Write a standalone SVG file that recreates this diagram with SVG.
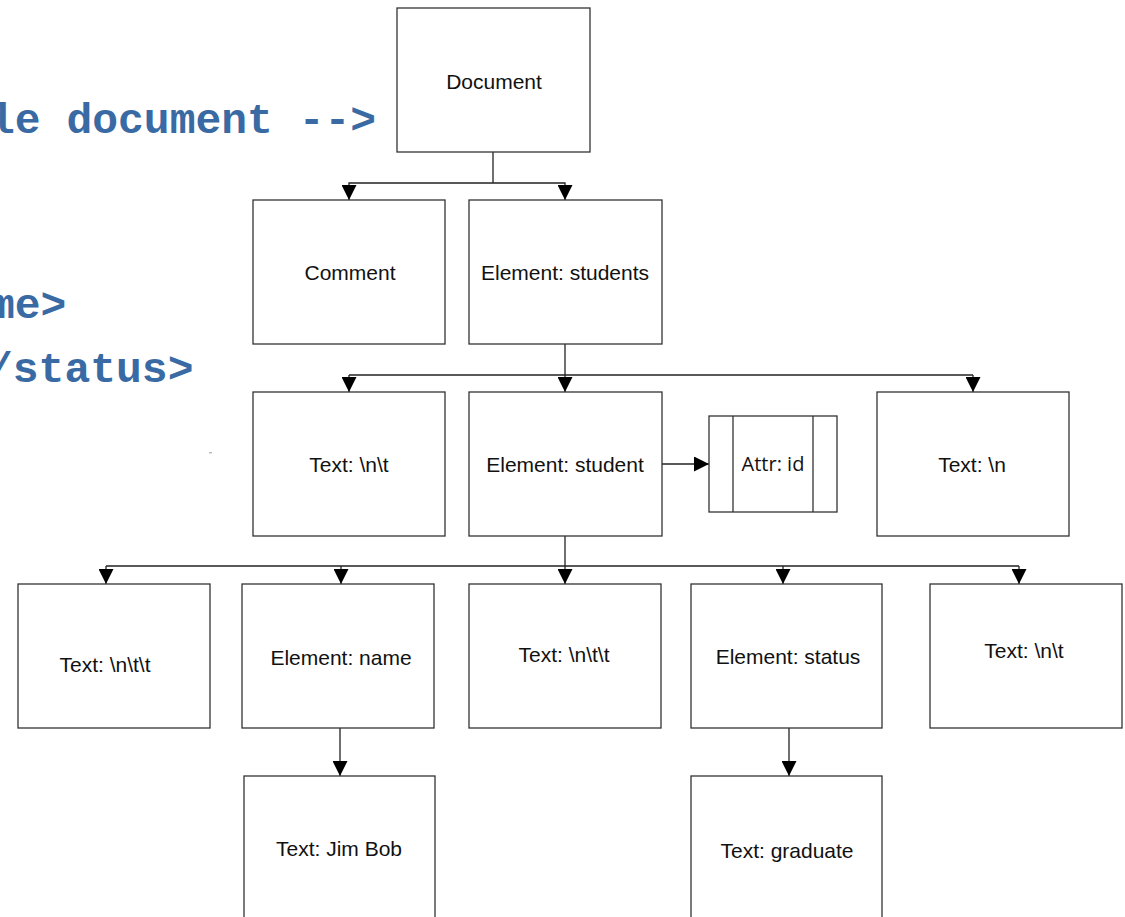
<svg xmlns="http://www.w3.org/2000/svg" width="1125" height="917" viewBox="0 0 1125 917">
<style>
.box{fill:#fff;stroke:#333;stroke-width:1.3}
.lbl{font-family:"Liberation Sans",Arial,sans-serif;font-size:21px;fill:#111;text-anchor:middle}
.attr{font-family:"Open Sans","Noto Sans",sans-serif;font-size:20px;fill:#111;text-anchor:middle}
.code{font-family:"Liberation Mono","Courier New",monospace;font-weight:bold;font-size:43px;fill:#3a6aa3}
.c{fill:none;stroke:#222;stroke-width:1.3}
</style>
<defs>
<marker id="ah" markerUnits="userSpaceOnUse" markerWidth="15" markerHeight="15" refX="15" refY="7.5" orient="auto">
<path d="M0,0 L15,7.5 L0,15 z" fill="#000"/>
</marker>
</defs>
<rect width="1125" height="917" fill="#fff"/>
<g id="code">
<text class="code" x="-11" y="133">le document --&gt;</text>
<text class="code" x="-11" y="318">me&gt;</text>
<text class="code" x="-13" y="382">/status&gt;</text>
<rect x="209" y="452" width="3" height="1.5" fill="#bbb"/>
</g>
<g id="connectors">
<path class="c" d="M493,152 V183"/>
<path class="c" d="M493,183 H349 V200" marker-end="url(#ah)"/>
<path class="c" d="M493,183 H565 V200" marker-end="url(#ah)"/>
<path class="c" d="M565,344 V392" marker-end="url(#ah)"/>
<path class="c" d="M349,375 H973"/>
<path class="c" d="M349,375 V392" marker-end="url(#ah)"/>
<path class="c" d="M973,375 V392" marker-end="url(#ah)"/>
<path class="c" d="M662,464 H709" marker-end="url(#ah)"/>
<path class="c" d="M565,536 V584" marker-end="url(#ah)"/>
<path class="c" d="M106,566 H1019"/>
<path class="c" d="M106,566 V584" marker-end="url(#ah)"/>
<path class="c" d="M341,566 V584" marker-end="url(#ah)"/>
<path class="c" d="M783,566 V584" marker-end="url(#ah)"/>
<path class="c" d="M1019,566 V584" marker-end="url(#ah)"/>
<path class="c" d="M340,728 V776" marker-end="url(#ah)"/>
<path class="c" d="M789,728 V776" marker-end="url(#ah)"/>
</g>
<g id="document"><rect class="box" x="397" y="8" width="193" height="144"/><text class="lbl" x="494" y="89">Document</text></g>
<g id="comment"><rect class="box" x="253" y="200" width="192" height="144"/><text class="lbl" x="350" y="280">Comment</text></g>
<g id="students"><rect class="box" x="469" y="200" width="193" height="144"/><text class="lbl" x="565" y="280">Element: students</text></g>
<g id="text-nt"><rect class="box" x="253" y="392" width="192" height="144"/><text class="lbl" x="349" y="472">Text: \n\t</text></g>
<g id="student"><rect class="box" x="469" y="392" width="193" height="144"/><text class="lbl" x="565" y="472">Element: student</text></g>
<g id="attr-id"><rect class="box" x="709" y="416" width="128" height="96"/><line class="box" x1="733" y1="416" x2="733" y2="512"/><line class="box" x1="813" y1="416" x2="813" y2="512"/><text class="attr" x="773" y="471">Attr: id</text></g>
<g id="text-n"><rect class="box" x="877" y="392" width="192" height="144"/><text class="lbl" x="972" y="472">Text: \n</text></g>
<g id="text-ntt1"><rect class="box" x="18" y="584" width="192" height="144"/><text class="lbl" x="105" y="672">Text: \n\t\t</text></g>
<g id="name"><rect class="box" x="242" y="584" width="192" height="144"/><text class="lbl" x="341" y="665">Element: name</text></g>
<g id="text-ntt2"><rect class="box" x="469" y="584" width="192" height="144"/><text class="lbl" x="564" y="662">Text: \n\t\t</text></g>
<g id="status"><rect class="box" x="691" y="584" width="191" height="144"/><text class="lbl" x="788" y="664">Element: status</text></g>
<g id="text-nt2"><rect class="box" x="930" y="584" width="192" height="144"/><text class="lbl" x="1024" y="658">Text: \n\t</text></g>
<g id="jimbob"><rect class="box" x="244" y="776" width="191" height="160"/><text class="lbl" x="339" y="856">Text: Jim Bob</text></g>
<g id="graduate"><rect class="box" x="691" y="776" width="191" height="160"/><text class="lbl" x="787" y="858">Text: graduate</text></g>
</svg>
